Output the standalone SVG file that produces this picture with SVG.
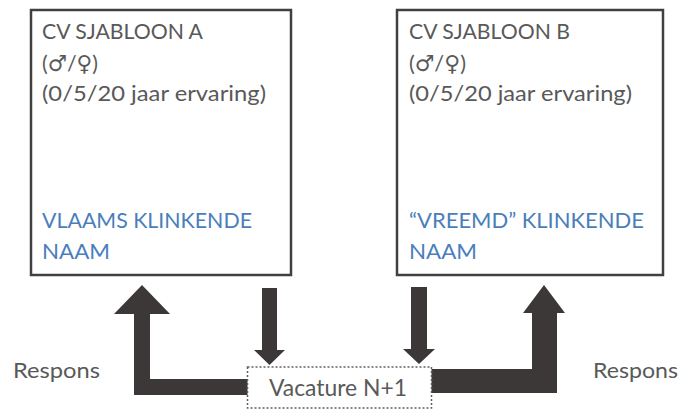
<svg xmlns="http://www.w3.org/2000/svg" width="681" height="412" viewBox="0 0 681 412">
  <style>
    .card { fill: #ffffff; stroke: #404040; stroke-width: 2.5; }
    .txt { font-family: Lato, "Open Sans", "DejaVu Sans", sans-serif; font-size: 22px; fill: #595959; }
    .name { fill: #4a7ebb; }
    .flow { fill: #3d3838; }
    .vac { fill: #ffffff; stroke: #606060; stroke-width: 1.5; stroke-dasharray: 2 2; }
  </style>

  <!-- connectors: thick block arrows -->
  <g id="connectors">
    <!-- response path back to template A -->
    <polygon class="flow" points="142,285 170,314 150,314 150,379 248,379 248,395 134,395 134,314 114,314"/>
    <!-- template A sent to vacancy -->
    <polygon class="flow" points="262,288 277,288 277,350 285,350 269.5,365 254,350 262,350"/>
    <!-- template B sent to vacancy -->
    <polygon class="flow" points="411,287 427,287 427,349 435,349 419,364 403,349 411,349"/>
    <!-- response path back to template B (heavier) -->
    <polygon class="flow" points="544,285 565,313 557,313 557,393 431,393 431,369 532,369 532,313 523,313"/>
  </g>

  <g id="cv-a">
    <rect class="card" x="31" y="10" width="260" height="265"/>
    <text class="txt" x="42" y="39" textLength="161" lengthAdjust="spacingAndGlyphs">CV SJABLOON A</text>
    <text class="txt" x="42" y="71" textLength="56" lengthAdjust="spacingAndGlyphs">(♂/♀)</text>
    <text class="txt" x="42" y="101" textLength="224" lengthAdjust="spacingAndGlyphs">(0/5/20 jaar ervaring)</text>
    <text class="txt name" x="42" y="228" textLength="210" lengthAdjust="spacingAndGlyphs">VLAAMS KLINKENDE</text>
    <text class="txt name" x="42" y="259" textLength="68" lengthAdjust="spacingAndGlyphs">NAAM</text>
  </g>

  <g id="cv-b">
    <rect class="card" x="397" y="10" width="266" height="265"/>
    <text class="txt" x="409" y="39" textLength="161" lengthAdjust="spacingAndGlyphs">CV SJABLOON B</text>
    <text class="txt" x="409" y="71" textLength="57" lengthAdjust="spacingAndGlyphs">(♂/♀)</text>
    <text class="txt" x="409" y="101" textLength="223" lengthAdjust="spacingAndGlyphs">(0/5/20 jaar ervaring)</text>
    <text class="txt name" x="409" y="228" textLength="235" lengthAdjust="spacingAndGlyphs">“VREEMD” KLINKENDE</text>
    <text class="txt name" x="409" y="259" textLength="68" lengthAdjust="spacingAndGlyphs">NAAM</text>
  </g>

  <g id="vacature">
    <rect class="vac" x="247.5" y="367" width="184" height="41"/>
    <text class="txt" x="269" y="396" textLength="138" lengthAdjust="spacingAndGlyphs" style="font-size:24px">Vacature N+1</text>
  </g>

  <g id="respons-a">
    <text class="txt" x="13" y="378" textLength="87" lengthAdjust="spacingAndGlyphs">Respons</text>
  </g>

  <g id="respons-b">
    <text class="txt" x="593" y="378" textLength="85" lengthAdjust="spacingAndGlyphs">Respons</text>
  </g>
</svg>
